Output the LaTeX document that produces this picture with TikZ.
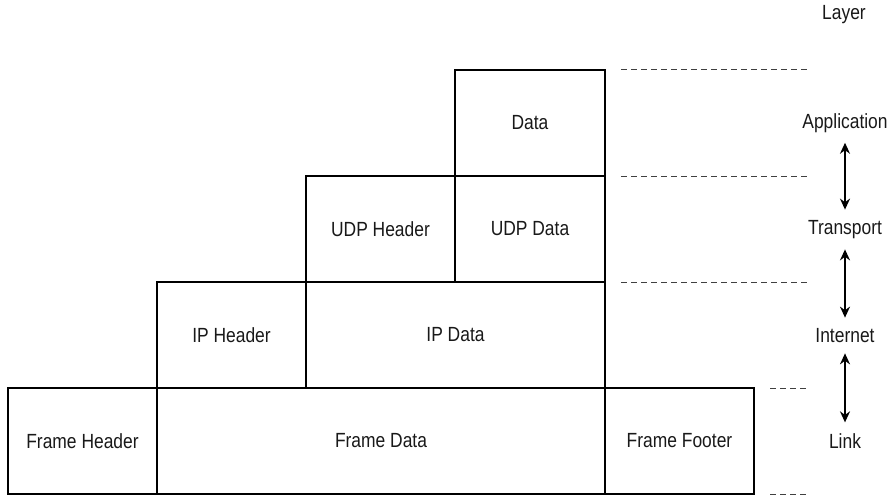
\documentclass[tikz,border=0pt]{standalone}
\usepackage{fontspec}
\setmainfont{Liberation Sans}[FakeStretch=0.85]
\usepackage{tikz}
\usetikzlibrary{positioning, arrows.meta}

\begin{document}
\begin{tikzpicture}[
    x=1pt, y=1pt,
    node distance=0pt,
    every node/.style={font=\fontsize{20.5}{24}\selectfont, text=black!90},
    cell/.style={draw, line width=1.5pt, outer sep=0pt, inner sep=0pt, minimum height=106pt, minimum width=149pt},
    layer/.style={inner sep=2pt},
    guide/.style={draw=black!75, line width=0.9pt, dash pattern=on 6pt off 4pt},
    arr/.style={{Stealth[length=11pt, width=10pt]}-{Stealth[length=11pt, width=10pt]}, line width=1.7pt}
]
\useasboundingbox (0,0) rectangle (892,496);

% link layer
\node[cell, anchor=south west] (fhead) at (8,2) {Frame Header};
\node[cell, minimum width=448pt, right=of fhead] (fdata) {Frame Data};
\node[cell, right=of fdata] (ffoot) {Frame Footer};
% internet layer
\node[cell, above=of fdata.north west, anchor=south west] (iphead) {IP Header};
\node[cell, minimum width=299pt, right=of iphead] (ipdata) {IP Data};
% transport layer
\node[cell, above=of ipdata.north west, anchor=south west] (udphead) {UDP Header};
\node[cell, minimum width=150pt, right=of udphead] (udpdata) {UDP Data};
% application layer
\node[cell, minimum width=150pt, above=of udpdata] (data) {Data};

% layer names
\node[layer] (layer) at (844,481) {Layer};
\node[layer] (app) at (845,373) {Application};
\node[layer] (trans) at (845,266) {Transport};
\node[layer] (inet) at (845,160) {Internet};
\node[layer] (link) at (845,55) {Link};

\draw[arr, shorten <=8pt, shorten >=9pt] (app) -- (trans);
\draw[arr, shorten <=8pt, shorten >=9pt] (trans) -- (inet);
\draw[arr, shorten <=8pt, shorten >=9pt] (inet) -- (link);

% boundaries
\foreach \yy in {427,320,214}
  \draw[guide] (621,\yy) -- (808,\yy);
\foreach \yy in {108,2}
  \draw[guide] (770,\yy) -- (808,\yy);
\end{tikzpicture}
\end{document}
